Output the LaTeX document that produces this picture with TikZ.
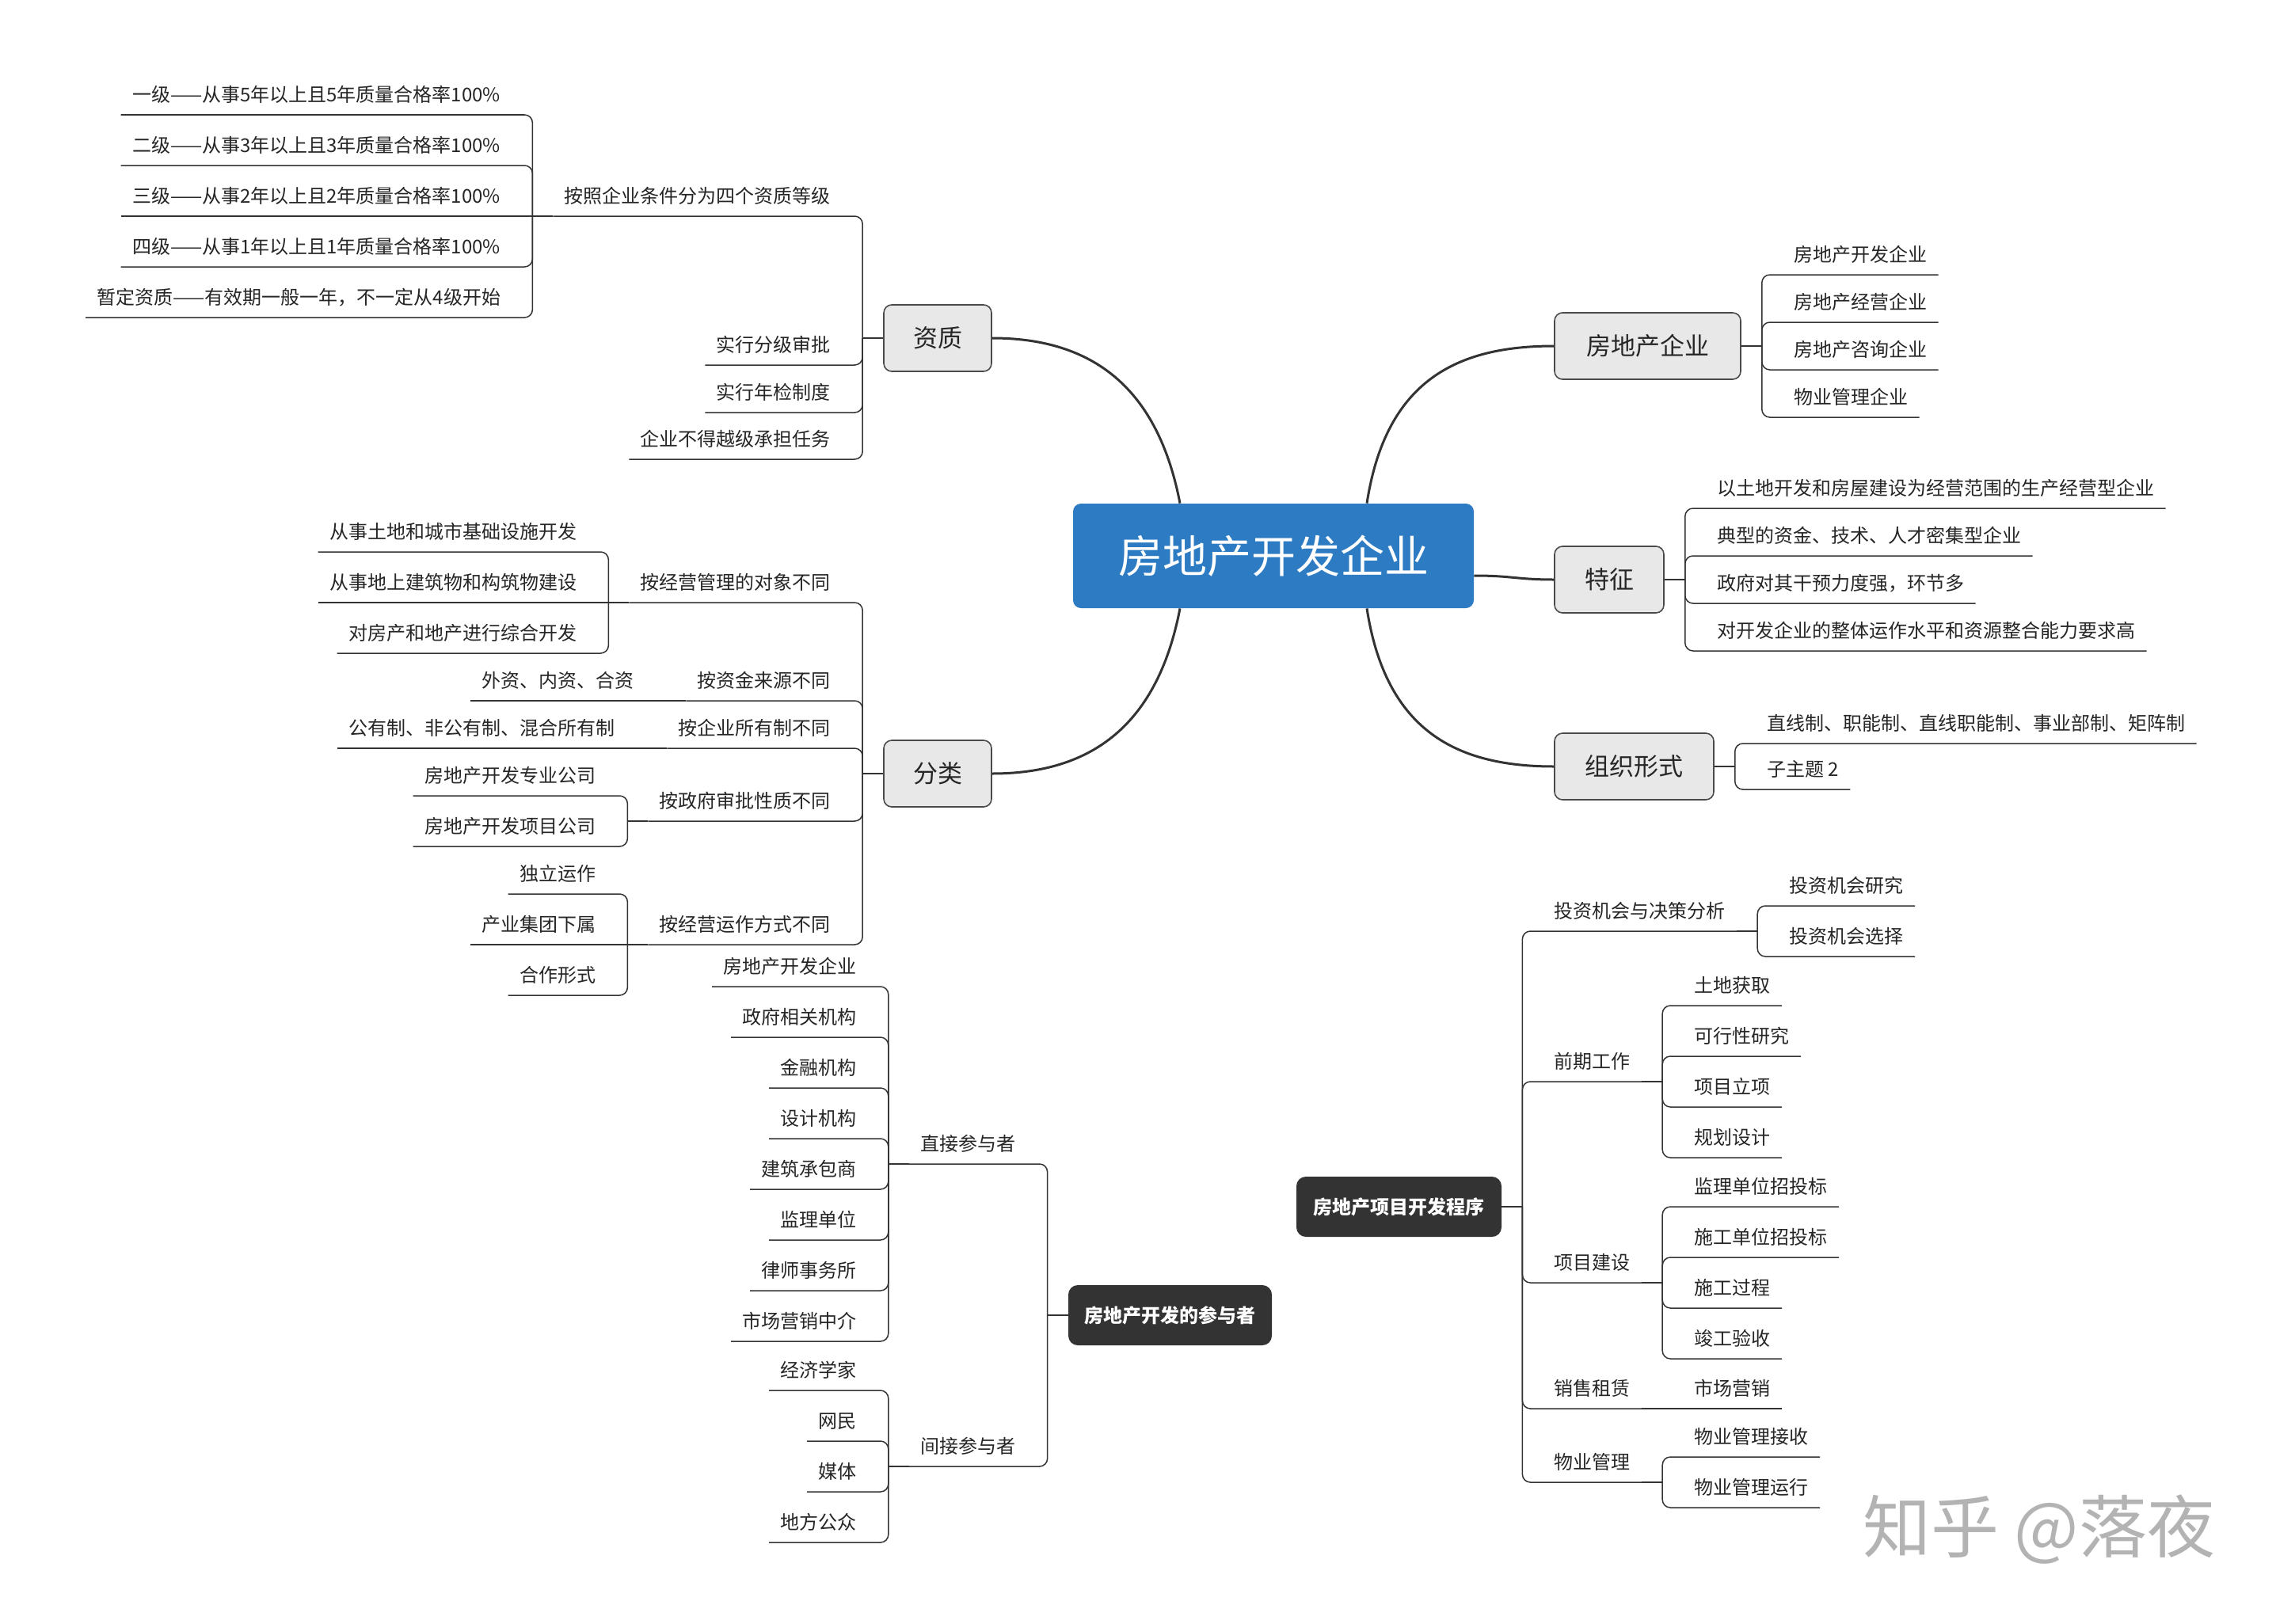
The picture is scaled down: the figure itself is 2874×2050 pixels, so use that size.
\documentclass[tikz,border=0pt]{standalone}
\usepackage{fontspec}
\newfontfamily\cjk{Noto Sans CJK SC}
\usetikzlibrary{calc}
\definecolor{linec}{HTML}{333333}
\definecolor{txt}{HTML}{262626}
\definecolor{topicfill}{HTML}{E8E8E8}
\definecolor{topicdraw}{HTML}{4A4A4A}
\definecolor{rootblue}{HTML}{2D7BC3}
\definecolor{darkbox}{HTML}{333333}
\definecolor{wm}{HTML}{B3B3B3}
\tikzset{
  subtext/.style={font=\cjk\fontsize{12pt}{14pt}\selectfont, text=txt, inner xsep=7pt, inner ysep=0pt, text height=10pt, text depth=7.9pt},
  subL/.style={subtext, anchor=south east},
  subR/.style={subtext, anchor=south west},
  topic/.style={draw=topicdraw, fill=topicfill, line width=0.8pt, rounded corners=5pt, font=\cjk\fontsize{15.5pt}{18pt}\selectfont, text=txt, inner sep=0pt, minimum height=42pt},
  roottopic/.style={fill=rootblue, rounded corners=5pt, font=\cjk\fontsize{28pt}{32pt}\selectfont, text=white, inner sep=0pt, minimum width=253pt, minimum height=66pt},
  floattopic/.style={fill=darkbox, rounded corners=6pt, font=\cjk\bfseries\fontsize{12pt}{14pt}\selectfont, text=white, inner sep=0pt, minimum height=38pt},
  ln/.style={draw=linec, line width=0.75pt, rounded corners=5pt},
  stub/.style={draw=linec, line width=1.3pt},
  trunk/.style={draw=linec, line width=1.5pt},
}
\begin{document}
\begin{tikzpicture}[x=0.5pt,y=-0.5pt]
\fill[white] (0,0) rectangle (2874,2050);
\useasboundingbox (0,0) rectangle (2874,2050);

% ---------- main topics ----------
\node[roottopic] (root) at (1608,702) {房地产开发企业};
\node[topic, minimum width=68pt] (zz) at (1184,427) {资质};
\node[topic, minimum width=68pt] (fl) at (1184,977) {分类};
\node[topic, minimum width=117.5pt] (qy) at (2080.5,437) {房地产企业};
\node[topic, minimum width=69pt] (tz) at (2032,732) {特征};
\node[topic, minimum width=100.5pt] (zx) at (2063.5,968) {组织形式};
\node[floattopic, minimum width=128.5pt] (cy) at (1477.5,1661) {房地产开发的参与者};
\node[floattopic, minimum width=129.5pt] (cx) at (1766.5,1524) {房地产项目开发程序};

% ---------- trunks ----------
\draw[trunk] ([xshift=-59pt]root.north) .. controls (1460,480) and (1370,427) .. (zz.east);
\draw[trunk] ([xshift=59pt]root.north) .. controls (1750,480) and (1840,437) .. (qy.west);
\draw[trunk] ([xshift=-59pt]root.south) .. controls (1460,924) and (1370,977) .. (fl.east);
\draw[trunk] ([xshift=59pt]root.south) .. controls (1750,924) and (1840,968) .. (zx.west);
\draw[trunk] ([yshift=-12.5pt]root.east) .. controls (1910,727) and (1915,732) .. (tz.west);

% ---------- 资质 ----------
\path (zz.west) ++(-52,-154) node[subL] (zz1) {按照企业条件分为四个资质等级};
\path (zz.west) ++(-52,34) node[subL] (zz2) {实行分级审批};
\path (zz.west) ++(-52,94) node[subL] (zz3) {实行年检制度};
\path (zz.west) ++(-52,153) node[subL] (zz4) {企业不得越级承担任务};
\path (zz1.south west) ++(-52,-128) node[subL] (zz11) {一级——从事5年以上且5年质量合格率100\%};
\path (zz1.south west) ++(-52,-64) node[subL] (zz12) {二级——从事3年以上且3年质量合格率100\%};
\path (zz1.south west) ++(-52,0) node[subL] (zz13) {三级——从事2年以上且2年质量合格率100\%};
\path (zz1.south west) ++(-52,64) node[subL] (zz14) {四级——从事1年以上且1年质量合格率100\%};
\path (zz1.south west) ++(-52,128) node[subL] (zz15) {暂定资质——有效期一般一年，不一定从4级开始};
\draw[stub] (zz.west) -- ++(-26,0) coordinate (zzv);
\foreach \nn in {zz1,zz2,zz3,zz4} \draw[ln] (zzv) |- (\nn.south west);
\draw[stub] (zz1.south west) -- ++(-26,0) coordinate (zz1v);
\foreach \nn in {zz11,zz12,zz14,zz15} \draw[ln] (zz1v) |- (\nn.south west);
\draw[ln] (zz1v) -- (zz13.south west);

% ---------- 分类 ----------
\path (fl.west) ++(-52,-216) node[subL] (fl1) {按经营管理的对象不同};
\path (fl.west) ++(-52,-92) node[subL] (fl2) {按资金来源不同};
\path (fl.west) ++(-52,-32) node[subL] (fl3) {按企业所有制不同};
\path (fl.west) ++(-52,60) node[subL] (fl4) {按政府审批性质不同};
\path (fl.west) ++(-52,216) node[subL] (fl5) {按经营运作方式不同};
\path (fl1.south west) ++(-52,-64) node[subL] (fl11) {从事土地和城市基础设施开发};
\path (fl1.south west) ++(-52,0) node[subL] (fl12) {从事地上建筑物和构筑物建设};
\path (fl1.south west) ++(-52,64) node[subL] (fl13) {对房产和地产进行综合开发};
\path (fl2.south west) ++(-52,0) node[subL] (fl21) {外资、内资、合资};
\path (fl3.south west) ++(-52,0) node[subL] (fl31) {公有制、非公有制、混合所有制};
\path (fl4.south west) ++(-52,-32) node[subL] (fl41) {房地产开发专业公司};
\path (fl4.south west) ++(-52,32) node[subL] (fl42) {房地产开发项目公司};
\path (fl5.south west) ++(-52,-64) node[subL] (fl51) {独立运作};
\path (fl5.south west) ++(-52,0) node[subL] (fl52) {产业集团下属};
\path (fl5.south west) ++(-52,64) node[subL] (fl53) {合作形式};
\draw[stub] (fl.west) -- ++(-26,0) coordinate (flv);
\foreach \nn in {fl1,fl2,fl3,fl4,fl5} \draw[ln] (flv) |- (\nn.south west);
\draw[stub] (fl1.south west) -- ++(-26,0) coordinate (fl1v);
\foreach \nn in {fl11,fl13} \draw[ln] (fl1v) |- (\nn.south west);
\draw[ln] (fl1v) -- (fl12.south west);
\draw[ln] (fl2.south west) -- (fl21.south west);
\draw[ln] (fl3.south west) -- (fl31.south west);
\draw[stub] (fl4.south west) -- ++(-26,0) coordinate (fl4v);
\foreach \nn in {fl41,fl42} \draw[ln] (fl4v) |- (\nn.south west);
\draw[stub] (fl5.south west) -- ++(-26,0) coordinate (fl5v);
\foreach \nn in {fl51,fl53} \draw[ln] (fl5v) |- (\nn.south west);
\draw[ln] (fl5v) -- (fl52.south west);

% ---------- 参与者 ----------
\path (cy.west) ++(-52,-191) node[subL] (cy1) {直接参与者};
\path (cy.west) ++(-52,191) node[subL] (cy2) {间接参与者};
\path (cy1.south west) ++(-52,-224) node[subL] (cy11) {房地产开发企业};
\path (cy1.south west) ++(-52,-160) node[subL] (cy12) {政府相关机构};
\path (cy1.south west) ++(-52,-96) node[subL] (cy13) {金融机构};
\path (cy1.south west) ++(-52,-32) node[subL] (cy14) {设计机构};
\path (cy1.south west) ++(-52,32) node[subL] (cy15) {建筑承包商};
\path (cy1.south west) ++(-52,96) node[subL] (cy16) {监理单位};
\path (cy1.south west) ++(-52,160) node[subL] (cy17) {律师事务所};
\path (cy1.south west) ++(-52,224) node[subL] (cy18) {市场营销中介};
\path (cy2.south west) ++(-52,-96) node[subL] (cy21) {经济学家};
\path (cy2.south west) ++(-52,-32) node[subL] (cy22) {网民};
\path (cy2.south west) ++(-52,32) node[subL] (cy23) {媒体};
\path (cy2.south west) ++(-52,96) node[subL] (cy24) {地方公众};
\draw[stub] (cy.west) -- ++(-26,0) coordinate (cyv);
\foreach \nn in {cy1,cy2} \draw[ln] (cyv) |- (\nn.south west);
\draw[stub] (cy1.south west) -- ++(-26,0) coordinate (cy1v);
\foreach \nn in {cy11,cy12,cy13,cy14,cy15,cy16,cy17,cy18} \draw[ln] (cy1v) |- (\nn.south west);
\draw[stub] (cy2.south west) -- ++(-26,0) coordinate (cy2v);
\foreach \nn in {cy21,cy22,cy23,cy24} \draw[ln] (cy2v) |- (\nn.south west);

% ---------- 房地产企业 ----------
\path (qy.east) ++(52,-90) node[subR] (qy1) {房地产开发企业};
\path (qy.east) ++(52,-30) node[subR] (qy2) {房地产经营企业};
\path (qy.east) ++(52,30) node[subR] (qy3) {房地产咨询企业};
\path (qy.east) ++(52,90) node[subR] (qy4) {物业管理企业};
\draw[stub] (qy.east) -- ++(26,0) coordinate (qyv);
\foreach \nn in {qy1,qy2,qy3,qy4} \draw[ln] (qyv) |- (\nn.south east);

% ---------- 特征 ----------
\path (tz.east) ++(52,-90) node[subR] (tz1) {以土地开发和房屋建设为经营范围的生产经营型企业};
\path (tz.east) ++(52,-30) node[subR] (tz2) {典型的资金、技术、人才密集型企业};
\path (tz.east) ++(52,30) node[subR] (tz3) {政府对其干预力度强，环节多};
\path (tz.east) ++(52,90) node[subR] (tz4) {对开发企业的整体运作水平和资源整合能力要求高};
\draw[stub] (tz.east) -- ++(26,0) coordinate (tzv);
\foreach \nn in {tz1,tz2,tz3,tz4} \draw[ln] (tzv) |- (\nn.south east);

% ---------- 组织形式 ----------
\path (zx.east) ++(52,-29) node[subR] (zx1) {直线制、职能制、直线职能制、事业部制、矩阵制};
\path (zx.east) ++(52,29) node[subR] (zx2) {子主题 2};
\draw[stub] (zx.east) -- ++(26,0) coordinate (zxv);
\foreach \nn in {zx1,zx2} \draw[ln] (zxv) |- (\nn.south east);

% ---------- 开发程序 ----------
\path (cx.east) ++(52,-348) node[subR] (cx1) {投资机会与决策分析};
\path (cx.east) ++(52,-158) node[subR] (cx2) {前期工作};
\path (cx.east) ++(52,96) node[subR] (cx3) {项目建设};
\path (cx.east) ++(52,255) node[subR] (cx4) {销售租赁};
\path (cx.east) ++(52,348) node[subR] (cx5) {物业管理};
\path (cx1.south east) ++(52,-32) node[subR] (cx11) {投资机会研究};
\path (cx1.south east) ++(52,32) node[subR] (cx12) {投资机会选择};
\path (cx2.south east) ++(52,-96) node[subR] (cx21) {土地获取};
\path (cx2.south east) ++(52,-32) node[subR] (cx22) {可行性研究};
\path (cx2.south east) ++(52,32) node[subR] (cx23) {项目立项};
\path (cx2.south east) ++(52,96) node[subR] (cx24) {规划设计};
\path (cx3.south east) ++(52,-96) node[subR] (cx31) {监理单位招投标};
\path (cx3.south east) ++(52,-32) node[subR] (cx32) {施工单位招投标};
\path (cx3.south east) ++(52,32) node[subR] (cx33) {施工过程};
\path (cx3.south east) ++(52,96) node[subR] (cx34) {竣工验收};
\path (cx4.south east) ++(52,0) node[subR] (cx41) {市场营销};
\path (cx5.south east) ++(52,-32) node[subR] (cx51) {物业管理接收};
\path (cx5.south east) ++(52,32) node[subR] (cx52) {物业管理运行};
\draw[stub] (cx.east) -- ++(26,0) coordinate (cxv);
\foreach \nn in {cx1,cx2,cx3,cx4,cx5} \draw[ln] (cxv) |- (\nn.south east);
\draw[stub] (cx1.south east) -- ++(26,0) coordinate (cx1v);
\foreach \nn in {cx11,cx12} \draw[ln] (cx1v) |- (\nn.south east);
\draw[stub] (cx2.south east) -- ++(26,0) coordinate (cx2v);
\foreach \nn in {cx21,cx22,cx23,cx24} \draw[ln] (cx2v) |- (\nn.south east);
\draw[stub] (cx3.south east) -- ++(26,0) coordinate (cx3v);
\foreach \nn in {cx31,cx32,cx33,cx34} \draw[ln] (cx3v) |- (\nn.south east);
\draw[ln] (cx4.south east) -- (cx41.south east);
\draw[stub] (cx5.south east) -- ++(26,0) coordinate (cx5v);
\foreach \nn in {cx51,cx52} \draw[ln] (cx5v) |- (\nn.south east);

% ---------- watermark ----------
\node[font=\cjk\fontsize{43pt}{50pt}\selectfont, text=wm, inner sep=0pt] (wmk) at (2575,1932) {知乎 @落夜};
\end{tikzpicture}
\end{document}
